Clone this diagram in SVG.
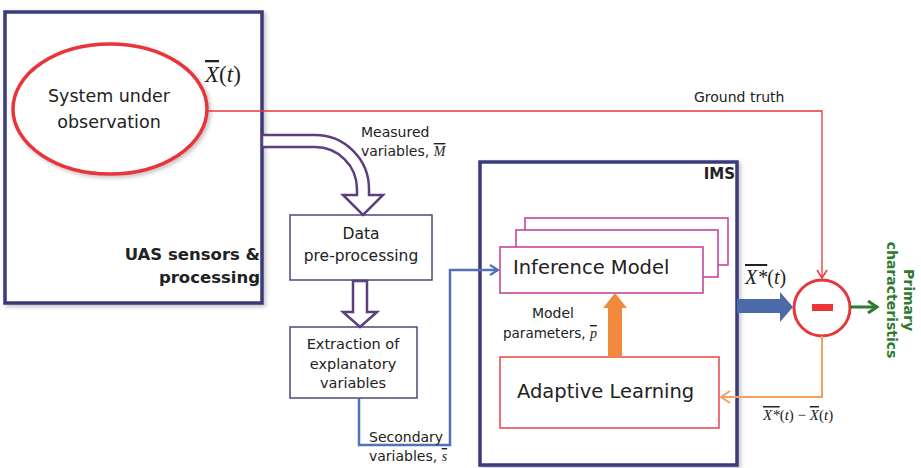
<svg xmlns="http://www.w3.org/2000/svg" width="921" height="468" viewBox="0 0 921 468">
<style>
.t{font-family:"DejaVu Sans",Verdana,sans-serif;fill:#222}
.b{font-family:"DejaVu Sans",Verdana,sans-serif;font-weight:bold;fill:#222}
.m{font-family:"Liberation Serif","Times New Roman",serif;fill:#222}
.big{fill:#fff;stroke:#3a3a7c;stroke-width:3.5}
.box{fill:#fff;stroke:#4a4a78;stroke-width:1.5}
.pink{fill:#fff;stroke:#c8459e;stroke-width:1.6}
</style>
<defs>
<filter id="sh" x="-5%" y="-5%" width="110%" height="110%">
<feDropShadow dx="2" dy="2" stdDeviation="2" flood-color="#000" flood-opacity="0.25"/>
</filter>
<marker id="bl" markerWidth="12" markerHeight="12" refX="10" refY="6" orient="auto" markerUnits="userSpaceOnUse">
<path d="M2,1 L10,6 L2,11" fill="none" stroke="#4f72b8" stroke-width="2.2"/>
</marker>
<marker id="rd" markerWidth="12" markerHeight="12" refX="10" refY="6" orient="auto" markerUnits="userSpaceOnUse">
<path d="M2,1 L10,6 L2,11" fill="none" stroke="#e8363a" stroke-width="1.5"/>
</marker>
<marker id="or" markerWidth="14" markerHeight="14" refX="11" refY="7" orient="auto" markerUnits="userSpaceOnUse">
<path d="M2,1 L11,7 L2,13" fill="none" stroke="#f0a060" stroke-width="2"/>
</marker>
<marker id="gr" markerWidth="14" markerHeight="14" refX="11" refY="7" orient="auto" markerUnits="userSpaceOnUse">
<path d="M2,1 L11,7 L2,13" fill="none" stroke="#2e7a2e" stroke-width="3"/>
</marker>
</defs>
<rect width="921" height="468" fill="#fff"/>

<g id="uas">
<rect class="big" x="5" y="12" width="257" height="291" filter="url(#sh)"/>
<text class="b" x="260" y="260" font-size="16.5" text-anchor="end">UAS sensors &amp;</text>
<text class="b" x="260" y="283" font-size="16.5" text-anchor="end">processing</text>
</g>

<g id="system">
<ellipse cx="110" cy="109" rx="97" ry="65" fill="#fff" stroke="#e8363a" stroke-width="3.5" filter="url(#sh)"/>
<text class="t" x="109" y="102" font-size="17.5" text-anchor="middle">System under</text>
<text class="t" x="109" y="128" font-size="17.5" text-anchor="middle">observation</text>
</g>

<g id="ims">
<rect class="big" x="480" y="162" width="257" height="303" filter="url(#sh)"/>
<text class="b" x="735" y="179" font-size="15" text-anchor="end">IMS</text>
</g>

<g id="inference">
<rect class="pink" x="525" y="218" width="203" height="47"/>
<rect class="pink" x="516" y="230" width="202" height="47"/>
<rect class="pink" x="500" y="247" width="203" height="46"/>
<text class="t" x="513" y="274" font-size="19.5" fill="#333">Inference Model</text>
</g>

<g id="adaptive">
<rect x="500" y="357" width="219" height="71" fill="#fff" stroke="#e85050" stroke-width="1.6"/>
<text class="t" x="517" y="398" font-size="19.5" fill="#333">Adaptive Learning</text>
</g>

<g id="data">
<rect class="box" x="290" y="215" width="142" height="65"/>
<text class="t" x="361" y="239" font-size="15.5" text-anchor="middle">Data</text>
<text class="t" x="361" y="261" font-size="15.5" text-anchor="middle">pre-processing</text>
</g>

<g id="extraction">
<rect class="box" x="290" y="327" width="127" height="71"/>
<text class="t" x="353" y="349" font-size="14.5" text-anchor="middle">Extraction of</text>
<text class="t" x="353" y="369" font-size="14.5" text-anchor="middle">explanatory</text>
<text class="t" x="353" y="388" font-size="14.5" text-anchor="middle">variables</text>
</g>

<g id="comparator">
<circle cx="822" cy="308" r="28" fill="#fff" stroke="#e8363a" stroke-width="3"/>
<rect x="812" y="304" width="21" height="7" fill="#e8363a"/>
</g>

<g id="connectors">
<polyline points="207,111 822,111 822,278" fill="none" stroke="#e8363a" stroke-width="1.3" marker-end="url(#rd)"/>
<path d="M262,135 L315,135 A54,54 0 0 1 369,189 L369,195 L383,195 L363,215 L343,195 L357,195 L357,189 A42,42 0 0 0 315,147 L262,147 Z" fill="#fff" stroke="#5b3f7e" stroke-width="2.5" stroke-linejoin="miter"/>
<path d="M353,281 L367,281 L367,312 L377,312 L360,327 L343,312 L353,312 Z" fill="#fff" stroke="#5b3f7e" stroke-width="2.5"/>
<polyline points="359,398 359,445 450,445 450,270 498,270" fill="none" stroke="#4f72b8" stroke-width="2.5" marker-end="url(#bl)"/>
<path d="M608,357 L608,308 L603,308 L615,293 L627,308 L622,308 L622,357 Z" fill="#f08a3c"/>
<path d="M737,299 L780,299 L780,292 L793,307 L780,322 L780,313 L737,313 Z" fill="#4a6aa8"/>
<polyline points="822,336 822,397 721,397" fill="none" stroke="#f0a060" stroke-width="2" marker-end="url(#or)"/>
<line x1="850" y1="307" x2="877" y2="307" stroke="#2e7a2e" stroke-width="3" marker-end="url(#gr)"/>
</g>

<g id="labels">
<text class="m" x="205" y="82" font-size="23"><tspan font-style="italic" text-decoration="overline">X</tspan>(<tspan font-style="italic">t</tspan>)</text>
<text class="t" x="694" y="102" font-size="14">Ground truth</text>
<text class="t" x="361" y="137" font-size="14">Measured</text>
<text class="t" x="361" y="156" font-size="14">variables, <tspan class="m" font-style="italic" text-decoration="overline" font-size="14">M</tspan></text>
<text class="t" x="369" y="442" font-size="14">Secondary</text>
<text class="t" x="369" y="461" font-size="14">variables, <tspan class="m" font-style="italic" text-decoration="overline" font-size="14">s</tspan></text>
<text class="t" x="553" y="318" font-size="14" text-anchor="middle">Model</text>
<text class="t" x="503" y="338" font-size="13.5">parameters, <tspan class="m" font-style="italic" text-decoration="overline" font-size="14">p</tspan></text>
<text class="m" x="745" y="284" font-size="20"><tspan font-style="italic" text-decoration="overline">X*</tspan>(<tspan font-style="italic">t</tspan>)</text>
<text class="m" x="763" y="420" font-size="15"><tspan font-style="italic" text-decoration="overline">X*</tspan>(<tspan font-style="italic">t</tspan>) − <tspan font-style="italic" text-decoration="overline">X</tspan>(<tspan font-style="italic">t</tspan>)</text>
<text class="b" font-size="14" style="fill:#2e7a2e" text-anchor="middle" transform="translate(904,300) rotate(90)">Primary</text>
<text class="b" font-size="14" style="fill:#2e7a2e" text-anchor="middle" transform="translate(887,300) rotate(90)">characteristics</text>
</g>
</svg>
